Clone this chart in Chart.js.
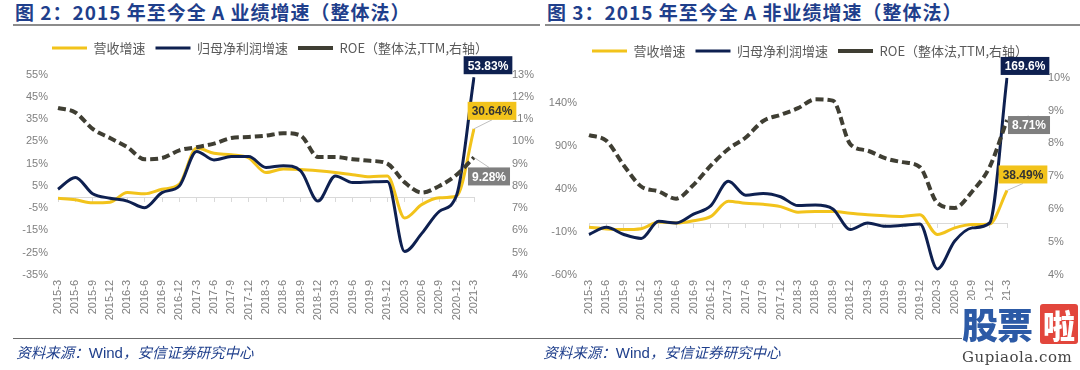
<!DOCTYPE html>
<html>
<head>
<meta charset="utf-8">
<script src="https://cdn.jsdelivr.net/npm/chart.js@4.4.0/dist/chart.umd.min.js"></script>
<style>
body{margin:0;width:1080px;height:370px;background:#fff;position:relative;overflow:hidden;font-family:"Noto Sans CJK SC",sans-serif}
.panel{position:absolute;top:0;width:540px;height:370px}
.title{position:absolute;top:0;height:24px;right:0;border-bottom:2px solid #8c8c8c;color:#1f3f8c;font-weight:bold;font-size:19px;line-height:23px;white-space:nowrap;letter-spacing:1px}
.title span{position:relative;left:2px}
canvas{position:absolute;left:0;top:30px}
.src{position:absolute;top:338px;right:0;border-top:1.5px solid #6b6b6b;color:#1f3f8c;font-size:14.5px;line-height:26px;font-style:italic;white-space:nowrap}
.src b{font-family:"Liberation Sans",Arial,sans-serif;font-style:normal;font-weight:normal;font-size:15px}
.wm{position:absolute;left:962px;top:300px;width:118px;height:70px;background:#fff}
.wm .a{position:absolute;left:0;top:0;font-size:36px;font-weight:900;color:#2c5aa6;line-height:46px;letter-spacing:-1px}
.wm .b{position:absolute;left:78px;top:4px;width:38px;height:40px;background:#e2463c;color:#fff;font-size:32px;font-weight:900;line-height:40px;text-align:center;border-radius:3px}
.wm .c{position:absolute;left:0;top:48px;font-family:"DejaVu Serif",serif;font-size:15px;color:#444;letter-spacing:0.5px}
</style>
</head>
<body>
<div class="panel" style="left:0">
  <div class="title" style="left:13px"><span>图 2：2015 年至今全 A 业绩增速（整体法）</span></div>
  <canvas id="c1" width="540" height="310"></canvas>
  <div class="src" style="left:13px">&nbsp;资料来源：<b>Wind</b>，安信证券研究中心</div>
</div>
<div class="panel" style="left:540px">
  <div class="title" style="left:5px"><span>图 3：2015 年至今全 A 非业绩增速（整体法）</span></div>
  <canvas id="c2" width="540" height="310"></canvas>
  <div class="src" style="left:0px">&nbsp;资料来源：<b>Wind</b>，安信证券研究中心</div>
</div>
<div class="wm"><div class="a">股票</div><div class="b">啦</div><div class="c">Gupiaola.com</div></div>
<script>
const quarters = ['2015-3','2015-6','2015-9','2015-12','2016-3','2016-6','2016-9','2016-12',
  '2017-3','2017-6','2017-9','2017-12','2018-3','2018-6','2018-9','2018-12',
  '2019-3','2019-6','2019-9','2019-12','2020-3','2020-6','2020-9','2020-12','2021-3'];

const seriesNames = ['营收增速', '归母净利润增速', 'ROE（整体法,TTM,右轴）'];

// 图2 全A
const revAll = [-0.5,-1.2,-2.6,-2.3,2,1.5,3.5,5.8,22,19.7,19,17.6,11,12.6,12.4,11.8,11,10,9.1,9.5,-9.4,-3.3,-0.3,0.5,30.64];
const profitAll = [3.5,8.8,1.5,-0.5,-1.8,-4.8,2,5,20.5,16.7,18.2,18.2,13.3,14.1,11.8,-1.8,9.5,6.5,6.8,7,-24.5,-16.2,-6.4,0.9,53.83];
const roeAll = [11.5,11.3,10.56,10.15,9.74,9.2,9.25,9.6,9.74,9.9,10.15,10.2,10.26,10.37,10.26,9.3,9.3,9.2,9.13,9.0,8.16,7.7,8.0,8.5,9.28];
const leftTicksAll = [-35,-25,-15,-5,5,15,25,35,45,55];
const rightTicksAll = [4,5,6,7,8,9,10,11,12,13];

// 图3 全A非金融
const revNF = [-4.4,-6.3,-7,-6,1.7,0.6,3.3,8.3,26,23.5,22.4,19.7,13.2,14,14,12,10.2,9,8.3,10.2,-12.8,-5.1,-1.3,-0.5,38.49];
const profitNF = [-12.8,-4.4,-12.8,-17.4,2.5,0.6,10.9,20.9,49.2,33,35,31.2,20.9,21.6,17,-7,0.6,-3.3,-2.1,-0.5,-52.9,-20.4,-5.1,0.6,169.6];
const roeNF = [8.25,8.08,7.33,6.69,6.54,6.32,6.74,7.33,7.83,8.18,8.68,8.87,9.07,9.34,9.3,7.98,7.78,7.55,7.43,7.28,6.19,6.04,6.54,7.28,8.71];
const leftTicksNF = [-60,-10,40,90,140];
const rightTicksNF = [4,5,6,7,8,9,10];

const YELLOW = '#f2c31b', NAVY = '#0e2050', OLIVE = '#3f3e33', GREY = '#7f7f7f';

// 图例下方留白
const legendGap = {
  id: 'legendGap',
  beforeInit(chart) {
    const fit = chart.legend.fit;
    chart.legend.fit = function () {
      fit.call(this);
      this.height += 10;
    };
  }
};

// 末端数值标签
const tagPlugin = {
  id: 'tags',
  afterDatasetsDraw(chart) {
    const ctx = chart.ctx;
    chart.data.datasets.forEach((ds, i) => {
      const t = ds.tag;
      if (!t) return;
      const meta = chart.getDatasetMeta(i);
      const pt = meta.data[meta.data.length - 1];
      const text = ds.data[ds.data.length - 1] + '%';
      ctx.save();
      ctx.font = 'bold 12px "Liberation Sans", Arial, sans-serif';
      const w = ctx.measureText(text).width + 8, h = 18;
      const cx = pt.x + t.dx, cy = pt.y + t.dy;
      if (t.leader) {
        ctx.strokeStyle = '#bfbfbf';
        ctx.lineWidth = 1;
        ctx.beginPath();
        ctx.moveTo(pt.x, pt.y);
        ctx.lineTo(cx, cy + (t.dy < 0 ? h / 2 : -h / 2));
        ctx.stroke();
      }
      ctx.fillStyle = t.bg;
      ctx.fillRect(cx - w / 2, cy - h / 2, w, h);
      ctx.fillStyle = t.color;
      ctx.textAlign = 'center';
      ctx.textBaseline = 'middle';
      ctx.fillText(text, cx, cy + 1);
      ctx.restore();
    });
  }
};

function makeChart(id, rev, profit, roe, leftTicks, rightTicks, box, tags) {
  const tickFont = {family: '"Liberation Sans", Arial, sans-serif', size: 11};
  return new Chart(document.getElementById(id), {
    type: 'line',
    data: {
      labels: quarters,
      datasets: [
        {label: seriesNames[0], data: rev, yAxisID: 'y', borderColor: YELLOW, backgroundColor: YELLOW,
         borderWidth: 3, pointRadius: 0, cubicInterpolationMode: 'monotone', order: 3, tag: tags[0]},
        {label: seriesNames[1], data: profit, yAxisID: 'y', borderColor: NAVY, backgroundColor: NAVY,
         borderWidth: 3, pointRadius: 0, cubicInterpolationMode: 'monotone', order: 2, tag: tags[1]},
        {label: seriesNames[2], data: roe, yAxisID: 'y1', borderColor: OLIVE, backgroundColor: OLIVE,
         borderWidth: 4, borderDash: [8, 4], pointRadius: 0, cubicInterpolationMode: 'monotone', order: 1, tag: tags[2]}
      ]
    },
    options: {
      responsive: false,
      animation: false,
      devicePixelRatio: 1,
      layout: {padding: {top: 1.5, left: 0, right: 0, bottom: 0}},
      plugins: {
        tooltip: {enabled: false},
        legend: {
          position: 'top',
          labels: {
            usePointStyle: true,
            pointStyle: 'line',
            pointStyleWidth: 35,
            padding: 10,
            color: '#595959',
            font: {family: '"Noto Sans CJK SC", sans-serif', size: 13},
            sort: (a, b) => a.datasetIndex - b.datasetIndex
          }
        }
      },
      scales: {
        x: {
          type: 'category',
          grid: {display: false, drawTicks: false},
          border: {display: false},
          ticks: {minRotation: 90, maxRotation: 90, autoSkip: false, padding: 5, color: GREY, font: tickFont},
          afterFit: s => { s.height = box.xh; }
        },
        x2: {
          type: 'category',
          position: {y: 0},
          grid: {drawOnChartArea: false, drawTicks: true, tickLength: 4, color: '#d9d9d9'},
          border: {display: true, color: '#d9d9d9', width: 1},
          ticks: {display: false}
        },
        y: {
          position: 'left',
          min: leftTicks[0],
          max: box.ymax,
          grid: {display: false, drawTicks: false},
          border: {display: false},
          ticks: {padding: box.lp, color: GREY, font: tickFont, callback: v => v + '%'},
          afterBuildTicks: s => { s.ticks = leftTicks.map(v => ({value: v})); },
          afterFit: s => { s.width = box.lw; }
        },
        y1: {
          position: 'right',
          min: rightTicks[0],
          max: rightTicks[rightTicks.length - 1],
          grid: {display: false, drawTicks: false},
          border: {display: false},
          ticks: {padding: box.rp, color: GREY, font: tickFont, callback: v => v + '%'},
          afterBuildTicks: s => { s.ticks = rightTicks.map(v => ({value: v})); },
          afterFit: s => { s.width = box.rw; }
        }
      }
    },
    plugins: [legendGap, tagPlugin]
  });
}

makeChart('c1', revAll, profitAll, roeAll, leftTicksAll, rightTicksAll,
  {xh: 65, lw: 58, lp: 10, rw: 66, rp: 38, ymax: 55},
  [{dx: 18, dy: -18, bg: YELLOW, color: '#333', leader: true},
   {dx: 14, dy: -12, bg: NAVY, color: '#fff'},
   {dx: 15, dy: 19, bg: GREY, color: '#fff', leader: true}]);

makeChart('c2', revNF, profitNF, roeNF, leftTicksNF, rightTicksNF,
  {xh: 65, lw: 49, lp: 12, rw: 73, rp: 41, ymax: 170},
  [{dx: 16, dy: -16, bg: YELLOW, color: '#333', leader: true},
   {dx: 18, dy: -12, bg: NAVY, color: '#fff'},
   {dx: 22, dy: 5, bg: GREY, color: '#fff', leader: true}]);
</script>
</body>
</html>
